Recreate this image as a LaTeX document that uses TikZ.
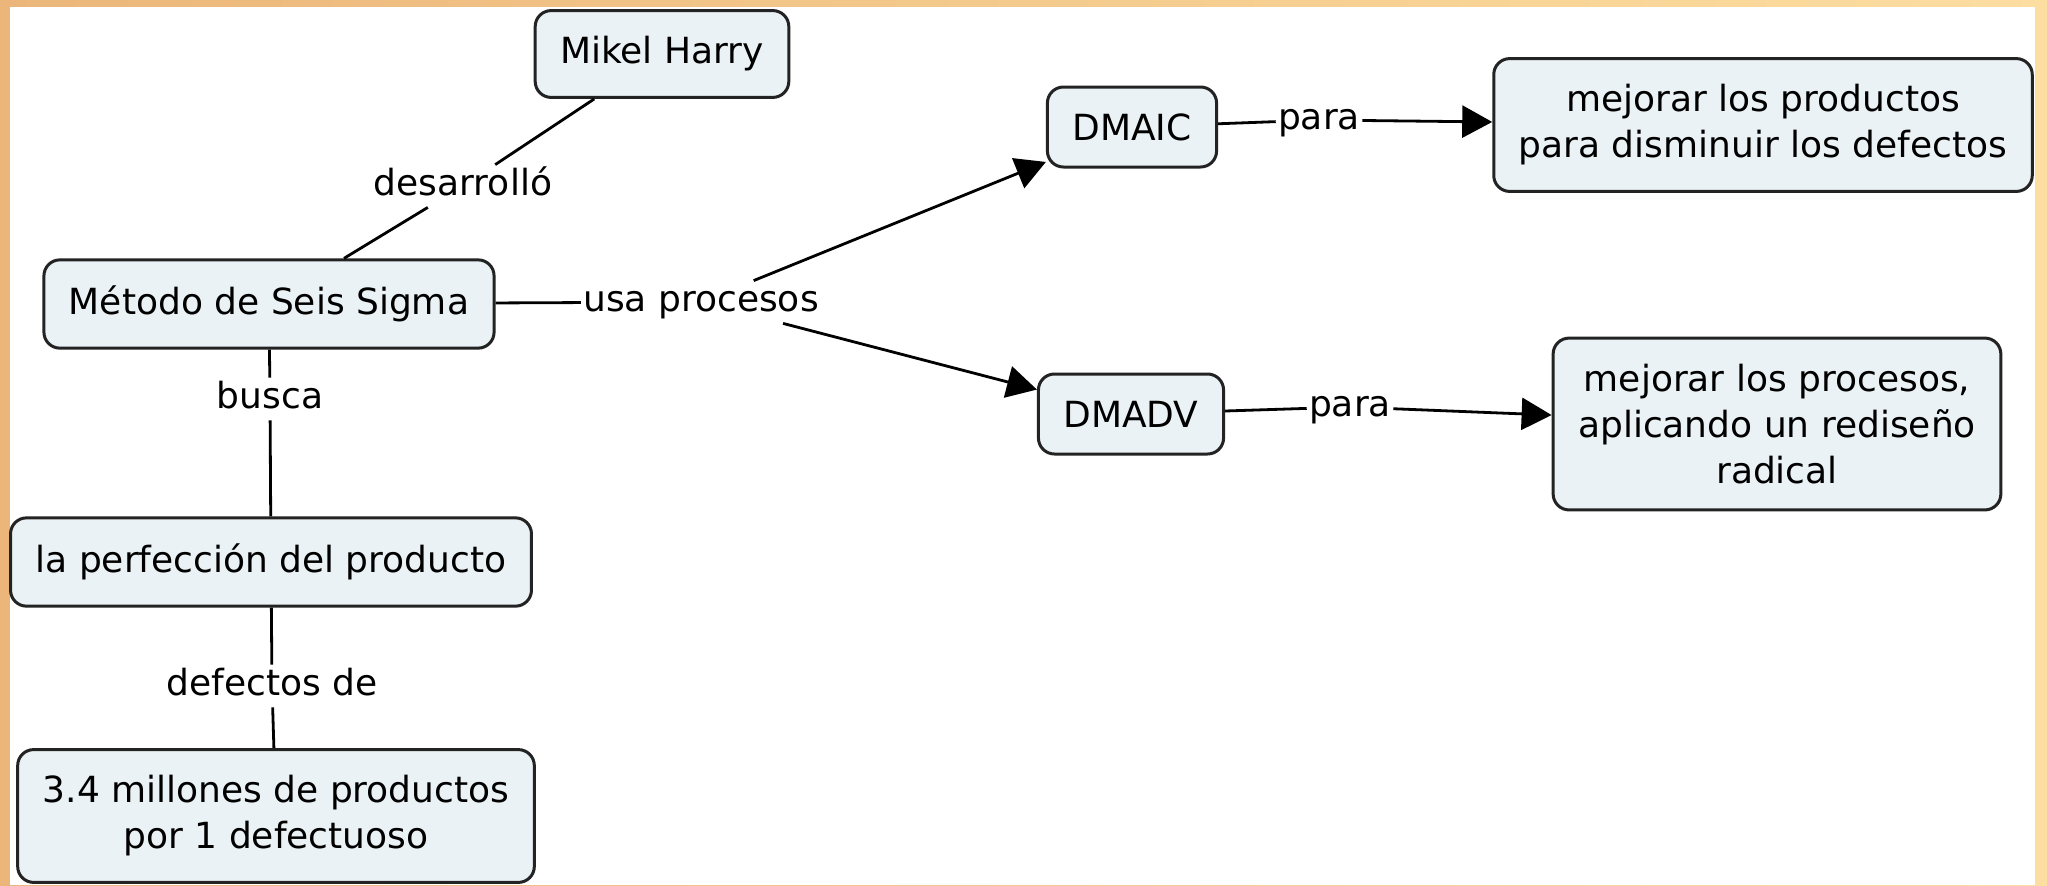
\documentclass[tikz,border=0pt]{standalone}
\usepackage{fontspec}
\setmainfont{DejaVu Sans}
\usetikzlibrary{arrows.meta}
\definecolor{boxfill}{RGB}{235,242,245}
\definecolor{boxline}{RGB}{35,35,35}
\definecolor{edgeleft}{RGB}{236,182,122}
\definecolor{edgeright}{RGB}{252,222,160}

\begin{document}
\begin{tikzpicture}[x=0.5pt, y=-0.5pt, >={Triangle[length=15pt,width=16pt]}, every node/.style={font=\fontsize{18pt}{23pt}\selectfont, text=black}]
\tikzstyle{concept}=[draw=boxline, line width=1.5pt, fill=boxfill, rounded corners=8pt, align=center, inner xsep=12.5pt, inner ysep=13pt, minimum height=40pt]
\tikzstyle{link label}=[inner xsep=1pt, inner ysep=1.5pt, text height=13.7pt, text depth=4.3pt]
\tikzstyle{link}=[line width=1.4pt, draw=black]

\useasboundingbox (0,0) rectangle (2047,885);
\shade[left color=edgeleft, right color=edgeright] (0,0) rectangle (2047,885);
\fill[white] (10,7) rectangle (2035,885);

\node[concept] (mikel) at (662,54) {Mikel Harry};
\node[concept] (metodo) at (269,304) {Método de Seis Sigma};
\node[concept] (dmaic) at (1132,127) {DMAIC};
\node[concept] (dmadv) at (1131,414) {DMADV};
\node[concept] (productos) at (1763,125) {mejorar los productos\\para disminuir los defectos};
\node[concept] (procesos) at (1777,424) {mejorar los procesos,\\aplicando un rediseño\\radical};
\node[concept] (perfeccion) at (271,562) {la perfección del producto};
\node[concept] (millones) at (276,816) {3.4 millones de productos\\por 1 defectuoso};

\node[link label] (desarrollo) at (463,186) {desarrolló};
\node[link label] (usa) at (701,302) {usa procesos};
\node[link label] (para1) at (1319,120) {para};
\node[link label] (para2) at (1350,407) {para};
\node[link label] (busca) at (270,399) {busca};
\node[link label] (defectos) at (272,686) {defectos de};

\draw[link] (mikel) -- (desarrollo);
\draw[link] (desarrollo) -- (metodo);
\draw[link] (metodo) -- (usa);
\draw[link,->] (usa) -- (dmaic);
\draw[link,->] (usa) -- (dmadv);
\draw[link] (dmaic) -- (para1);
\draw[link,->] (para1) -- (productos);
\draw[link] (dmadv) -- (para2);
\draw[link,->] (para2) -- (procesos);
\draw[link] (metodo) -- (busca);
\draw[link] (busca) -- (perfeccion);
\draw[link] (perfeccion) -- (defectos);
\draw[link] (defectos) -- (millones);
\end{tikzpicture}
\end{document}
